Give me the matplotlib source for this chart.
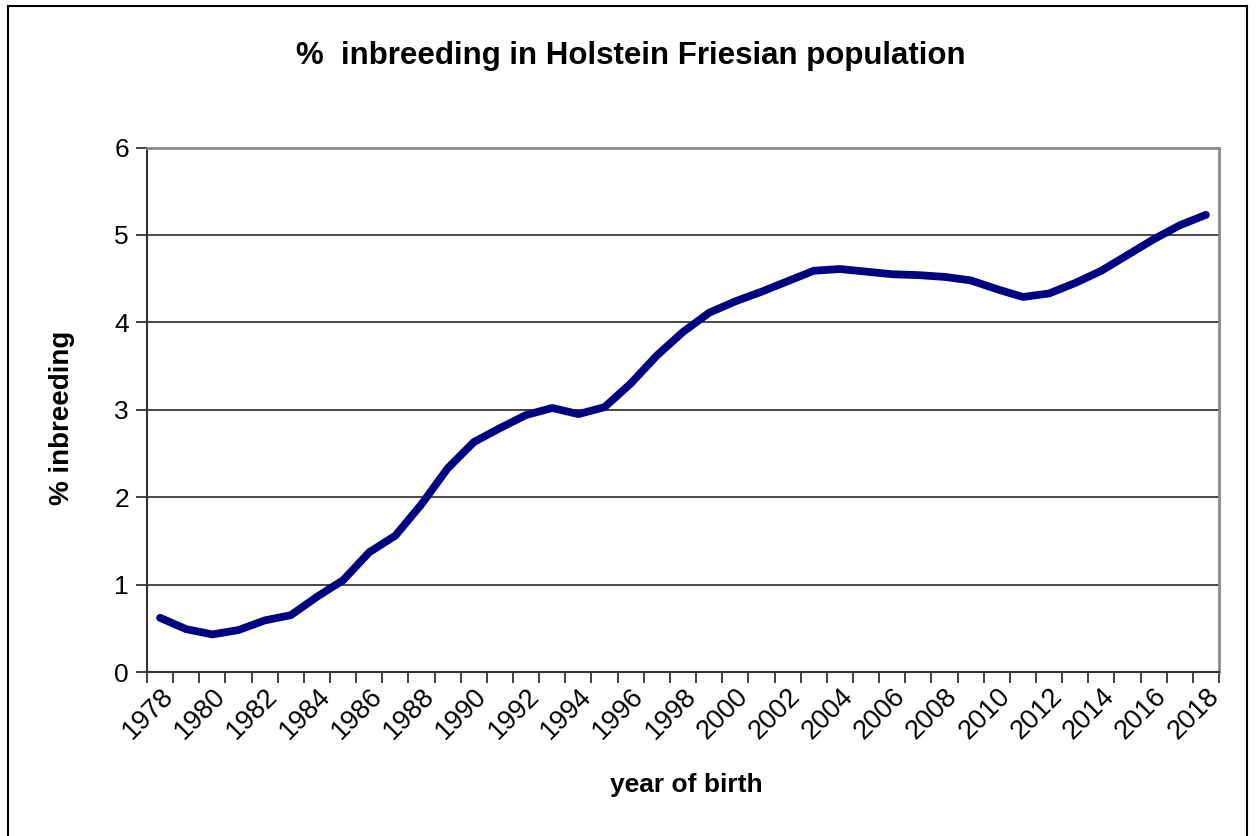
import matplotlib
matplotlib.use("Agg")
import matplotlib.pyplot as plt
from matplotlib.lines import Line2D
from matplotlib.transforms import ScaledTranslation

years = list(range(1978, 2019))
inbreeding = [0.62, 0.49, 0.43, 0.48, 0.59, 0.65, 0.86, 1.05, 1.37, 1.56, 1.92,
              2.33, 2.63, 2.79, 2.94, 3.02, 2.95, 3.03, 3.30, 3.62, 3.89, 4.11,
              4.24, 4.35, 4.47, 4.59, 4.61, 4.58, 4.55, 4.54, 4.52, 4.48, 4.38,
              4.29, 4.33, 4.45, 4.59, 4.77, 4.95, 5.11, 5.23]
y_ticks = [0, 1, 2, 3, 4, 5, 6]
x_labels = [str(y) for y in years[::2]]

W, H = 1256, 836
fig = plt.figure(figsize=(W / 100, H / 100), dpi=100)
plt.rcParams['font.family'] = ['Liberation Sans', 'DejaVu Sans']

left, right, top, bottom = 147, 1219, 147.5, 672
ax = fig.add_axes([left / W, 1 - bottom / H, (right - left) / W, (bottom - top) / H])

n = len(years)
xs = list(range(n))
ax.plot(xs, inbreeding, color='#000080', lw=5.6, solid_capstyle='round',
        solid_joinstyle='round', zorder=3)

ax.set_xlim(-0.5, n - 0.5)
ax.set_ylim(0, 6)
ax.set_yticks(y_ticks)
ax.set_yticklabels([str(v) for v in y_ticks], fontsize=19)
ax.grid(axis='y', color='#3a3a3a', lw=1.3, zorder=1)

# category boundary ticks
ax.set_xticks([i - 0.5 for i in range(n + 1)])
ax.set_xticklabels([])
ax.set_xticks(xs[::2], minor=True)
ax.set_xticklabels(x_labels, minor=True, rotation=45, ha='right', va='top',
                   rotation_mode='anchor', fontsize=19.5)
offset = ScaledTranslation(-5 / 100, -2 / 100, fig.dpi_scale_trans)
for lab in ax.get_xticklabels(minor=True):
    lab.set_transform(lab.get_transform() + offset)
ax.tick_params(axis='x', which='major', length=8, width=1.3, color='#333333',
               direction='out')
ax.tick_params(axis='x', which='minor', length=0, pad=8)
ax.tick_params(axis='y', length=8, width=1.3, color='#333333', direction='out', pad=5)

for s in ['left', 'bottom']:
    ax.spines[s].set_color('#333333')
    ax.spines[s].set_linewidth(1.5)
for s in ['top', 'right']:
    ax.spines[s].set_color('#8a8a8a')
    ax.spines[s].set_linewidth(2)

fig.text(631 / W, 1 - 56 / H, '%  inbreeding in Holstein Friesian population',
         ha='center', va='center', fontsize=22.5, fontweight='bold')
fig.text(62 / W, 1 - 418 / H, '% inbreeding', ha='center', va='center',
         rotation=90, fontsize=20, fontweight='bold')
fig.text(686 / W, 1 - 785 / H, 'year of birth', ha='center', va='center',
         fontsize=19, fontweight='bold')

# outer chart border
bx0, bx1, by0 = 8 / W, 1247 / W, 1 - 6 / H
fig.add_artist(Line2D([bx0, bx0], [0, by0], transform=fig.transFigure, color='black', lw=1.5))
fig.add_artist(Line2D([bx1, bx1], [0, by0], transform=fig.transFigure, color='black', lw=1.5))
fig.add_artist(Line2D([bx0, bx1], [by0, by0], transform=fig.transFigure, color='black', lw=1.5))

fig.savefig('out.png', dpi=100, facecolor='white')
